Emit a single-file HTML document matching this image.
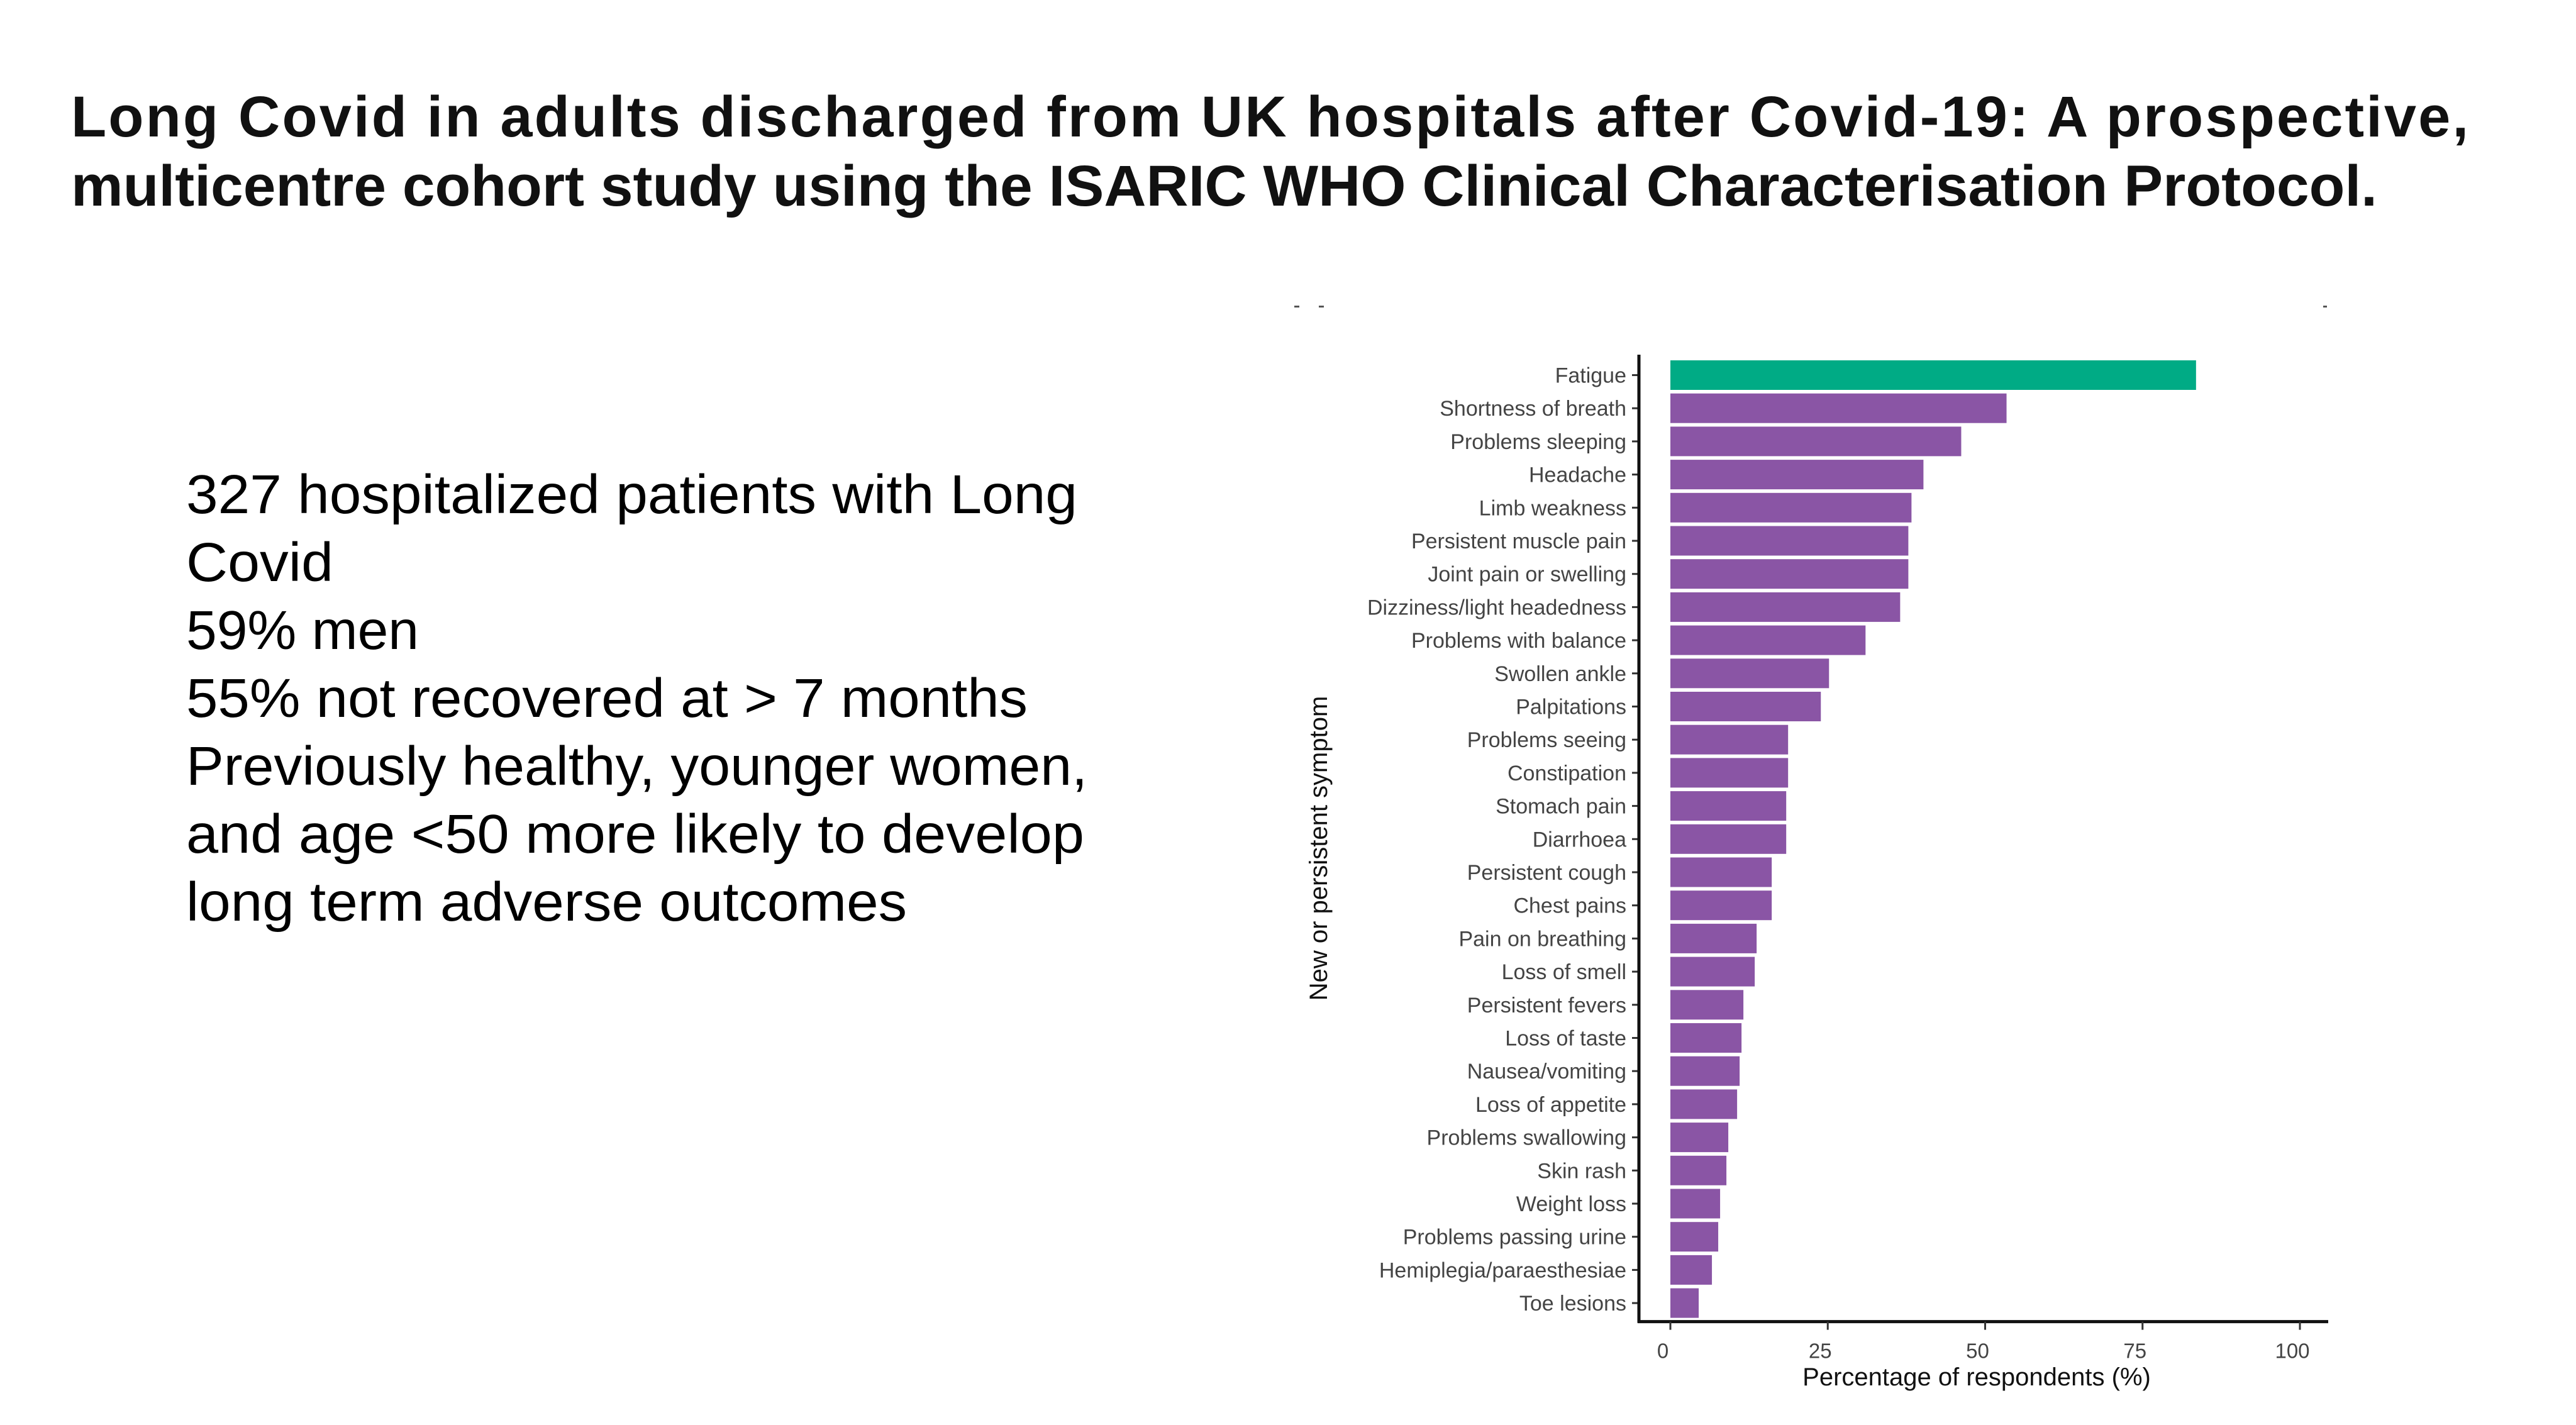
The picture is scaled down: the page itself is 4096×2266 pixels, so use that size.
<!DOCTYPE html>
<html><head><meta charset="utf-8"><style>
html,body{margin:0;padding:0;background:#fff;}
svg{display:block;}
</style></head><body>
<svg id="root" width="4096" height="2266" viewBox="0 0 4096 2266" xmlns="http://www.w3.org/2000/svg">
<rect x="0" y="0" width="4096" height="2266" fill="#fff"/>
<g font-family="'Liberation Sans', Arial, sans-serif" font-weight="bold" font-size="92" fill="#111">
<text x="113" y="217" textLength="3812" lengthAdjust="spacing">Long Covid in adults discharged from UK hospitals after Covid-19: A prospective,</text>
<text x="113" y="327" textLength="3667" lengthAdjust="spacingAndGlyphs">multicentre cohort study using the ISARIC WHO Clinical Characterisation Protocol.</text>
</g>
<g font-family="'Liberation Sans', Arial, sans-serif" font-size="87" fill="#000">
<text x="296" y="816" textLength="1417" lengthAdjust="spacingAndGlyphs">327 hospitalized patients with Long</text>
<text x="296" y="924" textLength="234" lengthAdjust="spacingAndGlyphs">Covid</text>
<text x="296" y="1032" textLength="370" lengthAdjust="spacingAndGlyphs">59% men</text>
<text x="296" y="1140" textLength="1338" lengthAdjust="spacingAndGlyphs">55% not recovered at &gt; 7 months</text>
<text x="296" y="1248" textLength="1433" lengthAdjust="spacingAndGlyphs">Previously healthy, younger women,</text>
<text x="296" y="1356" textLength="1428" lengthAdjust="spacingAndGlyphs">and age &lt;50 more likely to develop</text>
<text x="296" y="1464" textLength="1146" lengthAdjust="spacingAndGlyphs">long term adverse outcomes</text>
</g>
<g fill="#555">
<rect x="2058" y="486" width="8" height="3"/><rect x="2097" y="486" width="8" height="3"/><rect x="3694" y="486" width="6" height="3"/>
</g>
<g id="chart"></g>
</svg>
<script>
const categories = ["Fatigue","Shortness of breath","Problems sleeping","Headache","Limb weakness","Persistent muscle pain","Joint pain or swelling","Dizziness/light headedness","Problems with balance","Swollen ankle","Palpitations","Problems seeing","Constipation","Stomach pain","Diarrhoea","Persistent cough","Chest pains","Pain on breathing","Loss of smell","Persistent fevers","Loss of taste","Nausea/vomiting","Loss of appetite","Problems swallowing","Skin rash","Weight loss","Problems passing urine","Hemiplegia/paraesthesiae","Toe lesions"];
const values = [83.5,53.4,46.2,40.2,38.3,37.8,37.8,36.5,31.0,25.2,23.9,18.7,18.7,18.4,18.4,16.1,16.1,13.7,13.4,11.6,11.3,11.0,10.6,9.2,8.9,7.9,7.6,6.6,4.5];
const xTicks = [0,25,50,75,100];
const xTickLabels = ["0","25","50","75","100"];

const NS = "http://www.w3.org/2000/svg";
const g = document.getElementById('chart');
const x0 = 2656, xPerUnit = 10.01;
const yTop = 573, pitch = 52.7, barH = 47;
function xs(v){ return x0 + v * xPerUnit; }
function ys(i){ return yTop + i * pitch; }
function mk(tag, attrs){ const e = document.createElementNS(NS, tag); for (const k in attrs) e.setAttribute(k, attrs[k]); g.appendChild(e); return e; }
const font = "'Liberation Sans', Arial, sans-serif";
const axisY = ys(categories.length - 1) + barH + 6;

categories.forEach((c, i) => {
  const b = mk('rect', {x: xs(0), y: ys(i), width: xs(values[i]) - xs(0), height: barH, fill: i === 0 ? '#00ab85' : '#8a55a5'});
  
  
  const cy = ys(i) + barH / 2;
  const t = mk('line', {x1: 2595, x2: 2606, y1: cy, y2: cy, stroke: '#333', 'stroke-width': 3});
  
  
  const l = mk('text', {x: 2586, y: cy + 12, 'text-anchor': 'end', 'font-family': font, 'font-size': 34, fill: '#444'});
  l.textContent = c;
  
  
});

const ya = mk('line', {x1: 2606, x2: 2606, y1: yTop - 9, y2: axisY + 2, stroke: '#111', 'stroke-width': 5});


const xa = mk('line', {x1: 2604, x2: 3702, y1: axisY, y2: axisY, stroke: '#111', 'stroke-width': 5});



xTicks.forEach((v, i) => {
  const t = mk('line', {x1: xs(v), x2: xs(v), y1: axisY, y2: axisY + 13, stroke: '#333', 'stroke-width': 3});
  
  
  const l = mk('text', {x: xs(v) - 12, y: axisY + 58, 'text-anchor': 'middle', 'font-family': font, 'font-size': 33, fill: '#444'});
  l.textContent = xTickLabels[i];
  
  
});

const xt = mk('text', {x: 3143, y: 2203, 'text-anchor': 'middle', 'font-family': font, 'font-size': 40, fill: '#111'});
xt.textContent = 'Percentage of respondents (%)';


const yt = mk('text', {x: 0, y: 0, 'text-anchor': 'middle', 'font-family': font, 'font-size': 40, fill: '#111', transform: 'translate(2110,1349) rotate(-90)'});
yt.textContent = 'New or persistent symptom';


</script>
</body></html>
